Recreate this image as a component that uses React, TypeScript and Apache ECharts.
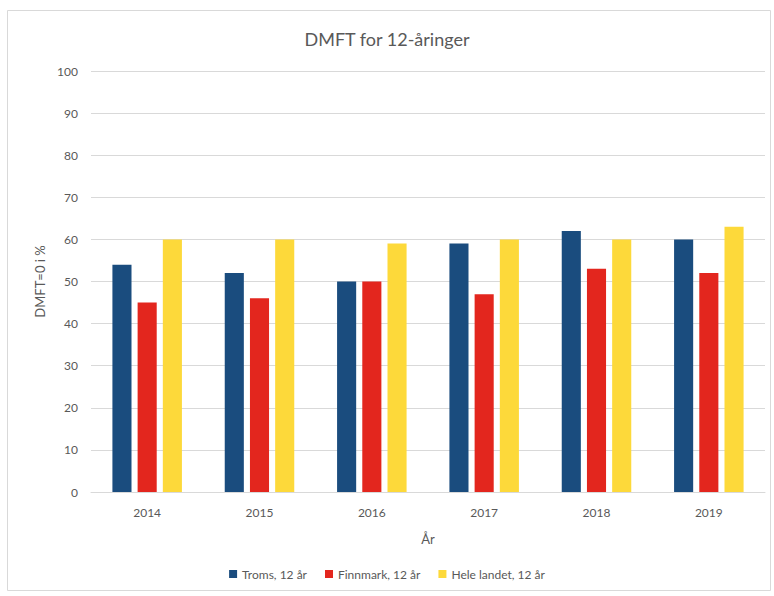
import React, { useEffect, useRef } from "react";
import * as echarts from "echarts";

const years = ["2014", "2015", "2016", "2017", "2018", "2019"];
const troms = [54, 52, 50, 59, 62, 60];
const finnmark = [45, 46, 50, 47, 53, 52];
const heleLandet = [60, 60, 59, 60, 60, 63];
const seriesNames = ["Troms, 12 år", "Finnmark, 12 år", "Hele landet, 12 år"];
const colors = ["#1A4C7E", "#E3261E", "#FDD93A"];

export default function App() {
  const ref = useRef<HTMLDivElement>(null);
  useEffect(() => {
    if (!ref.current) return;
    const chart = echarts.init(ref.current, undefined, { renderer: "svg" });
    const font = "Lato, 'Open Sans', sans-serif";
    const dataSets = [troms, finnmark, heleLandet];
    chart.setOption({
      animation: false,
      backgroundColor: "#ffffff",
      textStyle: { fontFamily: font },
      title: {
        text: "DMFT for 12-åringer",
        left: "center",
        top: 25,
        textStyle: { fontSize: 18, fontWeight: "normal", color: "#595959", fontFamily: font },
      },
      graphic: [
        {
          type: "rect",
          shape: { x: 7.5, y: 10.5, width: 763, height: 580 },
          style: { fill: "none", stroke: "#d9d9d9", lineWidth: 1 },
          silent: true,
        },
      ],
      legend: {
        bottom: 11,
        left: "center",
        icon: "rect",
        itemWidth: 8,
        itemHeight: 8,
        itemGap: 18,
        textStyle: { fontSize: 12, color: "#595959", fontFamily: font },
        data: seriesNames,
      },
      grid: { left: 91, right: 9, top: 71, bottom: 104 },
      xAxis: {
        type: "category",
        data: years,
        name: "År",
        nameLocation: "middle",
        nameGap: 40,
        nameTextStyle: { fontSize: 13, color: "#595959" },
        axisLine: { lineStyle: { color: "#d9d9d9" } },
        axisTick: { show: false },
        axisLabel: { fontSize: 12, color: "#595959", margin: 14 },
      },
      yAxis: {
        type: "value",
        min: 0,
        max: 100,
        interval: 10,
        name: "DMFT=0 i %",
        nameLocation: "middle",
        nameGap: 41,
        nameTextStyle: { fontSize: 13, color: "#595959" },
        axisLine: { show: false },
        axisTick: { show: false },
        axisLabel: { fontSize: 12, color: "#595959", margin: 13 },
        splitLine: { lineStyle: { color: "#d9d9d9" } },
      },
      series: dataSets.map((d, i) => ({
        name: seriesNames[i],
        type: "bar",
        data: d,
        barWidth: "17%",
        barGap: "32%",
        itemStyle: { color: colors[i] },
      })),
    });
    return () => chart.dispose();
  }, []);
  return (
    <div
      ref={ref}
      style={{ position: "fixed", left: 0, top: 0, width: 774, height: 596 }}
    />
  );
}
